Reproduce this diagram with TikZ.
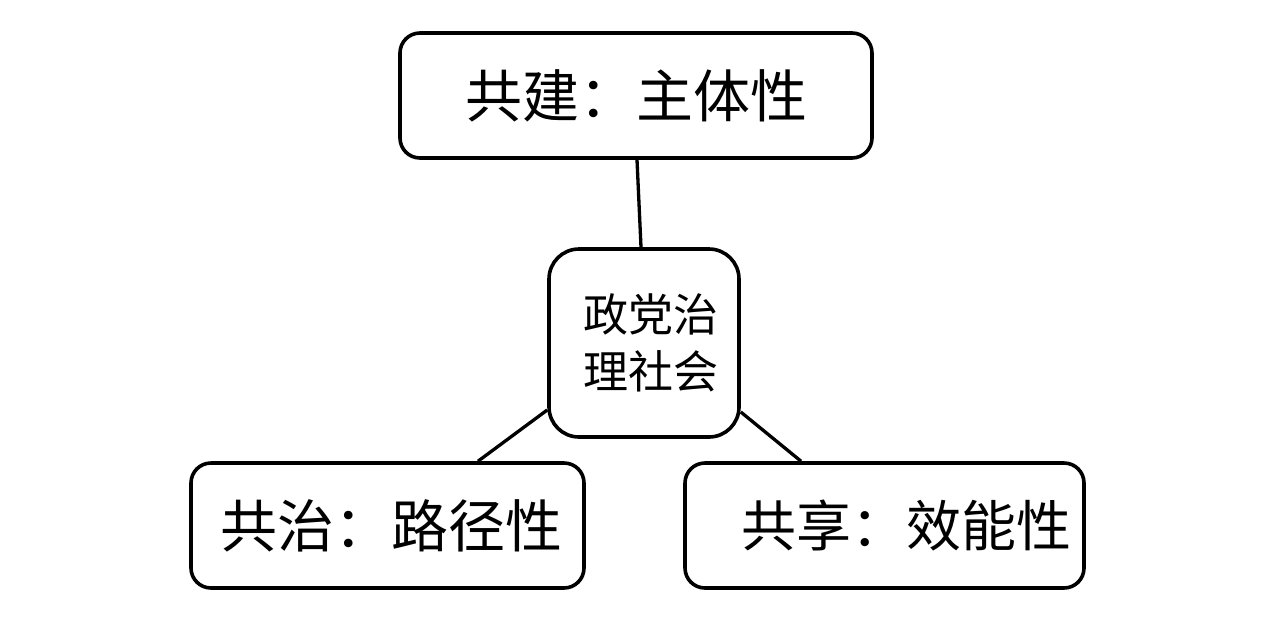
\documentclass[tikz,border=0pt]{standalone}
\usepackage{fontspec}
\setmainfont{Noto Sans CJK SC}
\begin{document}
\begin{tikzpicture}[x=1pt,y=-1pt,
  box/.style={draw=black,line width=3.6pt,rounded corners=20pt,fill=white,inner sep=0pt,text=black},
  conn/.style={draw=black,line width=3.3pt}]
\useasboundingbox[fill=white] (0,0) rectangle (1276,622);
\node[box,minimum width=472pt,minimum height=125pt,font=\fontsize{57}{60}\selectfont] (top) at (636,95.5) {共建：主体性};
\node[box,rounded corners=30pt,minimum width=190pt,minimum height=188pt,align=center,font=\fontsize{45}{57}\selectfont] (mid) at (644,343) {\hspace{14pt}政党治\\\hspace{14pt}理社会};
\node[box,minimum width=393pt,minimum height=125pt,font=\fontsize{57}{60}\selectfont] (bl) at (387.5,525.5) {\hspace{8pt}共治：路径性};
\node[box,minimum width=399pt,minimum height=125pt,font=\fontsize{55}{60}\selectfont] (br) at (884.5,525.5) {\hspace{44pt}共享：效能性};
\draw[conn] ([xshift=1pt]top.south) -- ([xshift=-3pt]mid.north);
\draw[conn] ([yshift=-67pt]mid.west) -- ([xshift=90.5pt]bl.north);
\draw[conn] ([yshift=-69pt]mid.east) -- ([xshift=-83.5pt]br.north);
\end{tikzpicture}
\end{document}
